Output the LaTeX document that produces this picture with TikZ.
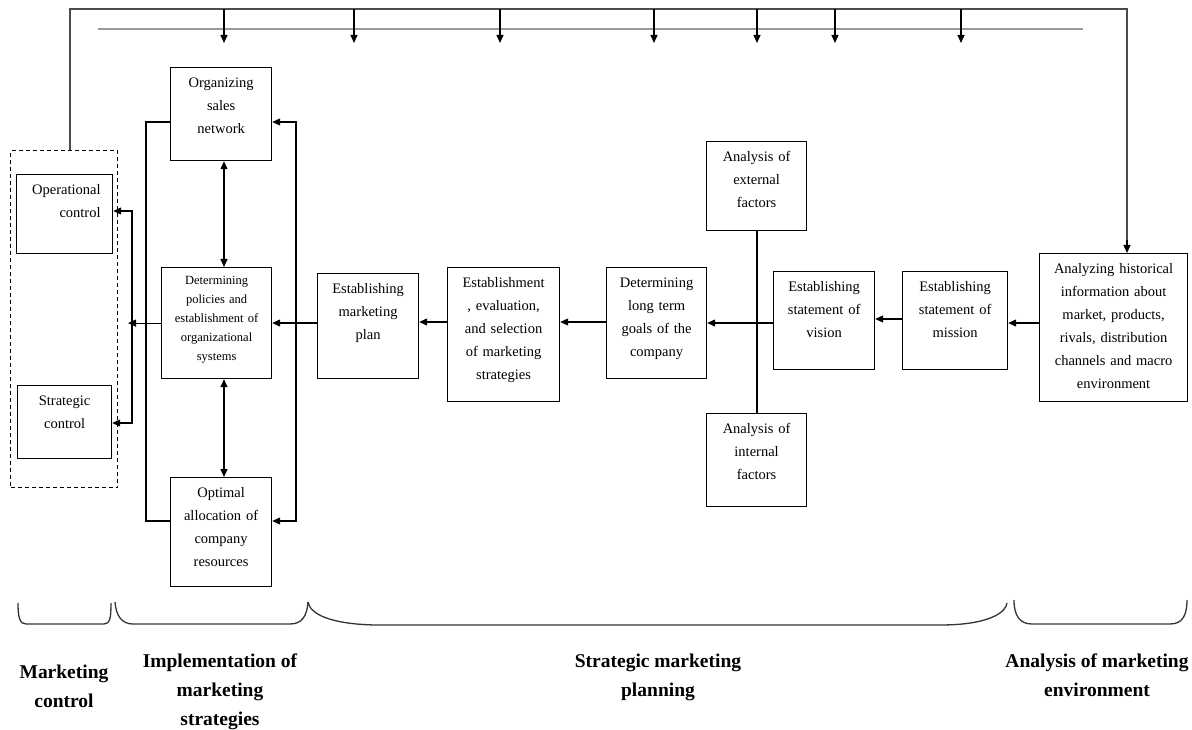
\documentclass[tikz,border=0pt]{standalone}
\usepackage{fontspec}
\setmainfont{Liberation Serif}
\usetikzlibrary{positioning,arrows.meta}

\begin{document}
\begin{tikzpicture}[
    x=1pt, y=-1pt,
    >={Triangle[length=8pt,width=7pt]},
    box/.style={draw, line width=1.2pt, anchor=north west, inner xsep=3pt, inner ysep=0pt, align=center, text height=19.5pt, font=\fontsize{14.5}{23}\selectfont},
    smalltext/.style={font=\fontsize{12.5}{19}\selectfont, text height=17pt},
    ctrlframe/.style={draw, dash pattern=on 4pt off 3pt, line width=1.1pt, anchor=north west, inner sep=0pt},
    link/.style={line width=1.2pt},
    topline/.style={line width=1.5pt, black!70},
    rail/.style={line width=1.1pt, black!40},
    bracket/.style={line width=1.3pt, black!80},
    phase/.style={font=\fontsize{19.5}{29}\selectfont\bfseries, align=center, anchor=north, inner sep=0pt}
]
\useasboundingbox (0,0) rectangle (1192,730);

% Marketing control
\node[ctrlframe, minimum width=107pt, minimum height=337pt] (ctrlgrp) at (10,150) {};
\node[box, align=right, inner xsep=12pt, text width=72pt, text depth=59.5pt] (opctrl) at (16,174) {Operational\\control};
\node[box, text width=88pt, text depth=53.5pt] (stctrl) at (17,385) {Strategic\\control};

% Implementation
\node[box, text width=95pt, text depth=73.5pt] (sales) at (170,67) {Organizing\\sales\\network};
\node[box, smalltext, text width=104pt, text depth=94pt] (policy) at (161,267) {Determining\\policies and\\establishment of\\organizational\\systems};
\node[box, text width=95pt, text depth=89.5pt] (alloc) at (170,477) {Optimal\\allocation of\\company\\resources};

% Planning
\node[box, text width=95pt, text depth=85.5pt] (plan) at (317,273) {Establishing\\marketing\\plan};
\node[box, text width=106pt, text depth=114.5pt] (select) at (447,267) {Establishment\\, evaluation,\\and selection\\of marketing\\strategies};
\node[box, text width=94pt, text depth=91.5pt] (goals) at (606,267) {Determining\\long term\\goals of the\\company};
\node[box, text width=94pt, text depth=69.5pt] (extern) at (706,141) {Analysis of\\external\\factors};
\node[box, text width=94pt, text depth=73.5pt] (intern) at (706,413) {Analysis of\\internal\\factors};
\node[box, text width=95pt, text depth=78.5pt] (vision) at (773,271) {Establishing\\statement of\\vision};
\node[box, text width=99pt, text depth=78.5pt] (mission) at (902,271) {Establishing\\statement of\\mission};

% Environment
\node[box, text width=142pt, text depth=128.5pt] (history) at (1039,253) {Analyzing historical\\information about\\market, products,\\rivals, distribution\\channels and macro\\environment};

% Feedback
\coordinate (railW) at (98,29);
\coordinate (railE) at (1083,29);
\draw[rail] (railW) -- (railE);
\draw[topline] (ctrlgrp.north -| 70,0) |- (1127,9) -- (1127,240);
\draw[link, ->] (1127,240) -- (history.north -| 1127,0);
\foreach \x in {224,354,500,654,757,835,961}
    \draw[link, ->] (\x,9) -- (\x,43);

% Connections
\draw[link, <->] (sales.south -| 224,0) -- (policy.north -| 224,0);
\draw[link, <->] (policy.south -| 224,0) -- (alloc.north -| 224,0);
\draw[link] (sales.west |- 0,122) -| (146,521) -- (alloc.west |- 0,521);
\draw[link, ->] (plan.west |- 0,323) -- (policy.east |- 0,323);
\draw[link, ->] (296,323) |- (sales.east |- 0,122);
\draw[link, ->] (296,323) |- (alloc.east |- 0,521);
\draw[link, ->] (policy.west) -- (policy.west -| 128,0);
\draw[link, ->] (132,323) |- (opctrl.east |- 0,211);
\draw[link, ->] (132,323) |- (stctrl.east |- 0,423);
\draw[link, ->] (select.west |- 0,322) -- (plan.east |- 0,322);
\draw[link, ->] (goals.west |- 0,322) -- (select.east |- 0,322);
\draw[link, ->] (vision.west |- 0,323) -- (goals.east |- 0,323);
\draw[link] (extern.south -| 757,0) -- (intern.north -| 757,0);
\draw[link, ->] (mission.west |- 0,319) -- (vision.east |- 0,319);
\draw[link, ->] (history.west |- 0,323) -- (mission.east |- 0,323);

% Brackets
\draw[bracket] (18,603) .. controls (18,618) and (20,624) .. (26,624) -- (104,624) .. controls (110,624) and (111,618) .. (111,603);
\draw[bracket] (115,602) .. controls (116,616) and (122,624) .. (133,624) -- (290,624) .. controls (302,624) and (307,616) .. (308,602);
\draw[bracket] (308,602) .. controls (310,614) and (330,624) .. (375,625) -- (940,625) .. controls (990,625) and (1006,612) .. (1007,603);
\draw[bracket] (1014,600) .. controls (1014,616) and (1020,624) .. (1032,624) -- (1170,624) .. controls (1182,624) and (1187,616) .. (1187,600);

% Labels
\node[phase] (lblctrl) at (64,665) {Marketing\\control};
\node[phase] (lblimpl) at (220,654) {Implementation of\\marketing\\strategies};
\node[phase] (lblplan) at (658,654) {Strategic marketing\\planning};
\node[phase] (lblenv) at (1097,654) {Analysis of marketing\\environment};

\end{tikzpicture}
\end{document}
